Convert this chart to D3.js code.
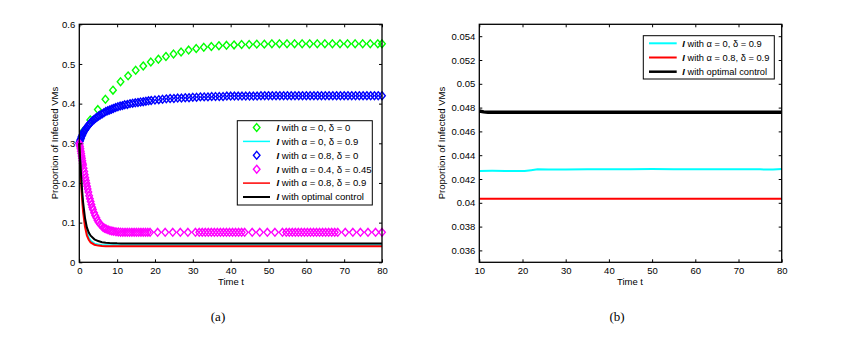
<!DOCTYPE html>
<html><head><meta charset="utf-8">
<script src="https://cdn.jsdelivr.net/npm/d3@7"></script>
<style>body{margin:0;background:#fff}svg{display:block}text{font-family:"Liberation Sans",Arial,sans-serif}</style>
</head><body>
<svg id="chart" width="860" height="337"></svg>
<script>
// ---------- data ----------
const xTicksLeft = [0,10,20,30,40,50,60,70,80];
const yTicksLeft = [0,0.1,0.2,0.3,0.4,0.5,0.6];
const xTicksRight = [10,20,30,40,50,60,70,80];
const yTicksRight = [0.036,0.038,0.04,0.042,0.044,0.046,0.048,0.05,0.052,0.054];

const greenT = [0,1,2.9,4.9,6.9,8.9,10.9,12.9,14.9,16.9,18.9,20.9,22.9,24.9,26.9,28.9,30.9,32.9,34.9,36.9,38.9,40.9,42.9,44.9,46.9,48.9,50.9,52.9,54.9,56.9,58.9,60.9,62.9,64.9,66.9,68.9,70.9,72.9,74.9,76.9,78.9,80];
const greenV = [0.300,0.330,0.359,0.385,0.411,0.434,0.455,0.470,0.484,0.495,0.505,0.512,0.519,0.525,0.530,0.535,0.539,0.542,0.544,0.546,0.547,0.548,0.549,0.549,0.550,0.550,0.551,0.551,0.551,0.551,0.551,0.551,0.551,0.551,0.551,0.551,0.551,0.551,0.551,0.551,0.551,0.551];

const blueT = [0,0.15,0.3,0.45,0.6,0.8,1.0,1.2,1.4,1.6,1.9,2.2,2.5,2.8,3.1,3.5,3.9,4.3,4.7,5.1,5.5,6.0,6.5,7.0,7.5,8.0,8.5,9.0,9.6,10.2,10.8,11.4,12.0,12.7,13.4,14.1,14.8,15.5,16.2,16.9,17.6,18.3,19,20,21,22,23,24,25,26,27,28,29,30,31,32,33,34,35,36,37,38,39,40,41,42,43,44,45,46,47,48,49,50,51,52,53,54,55,56,57,58,59,60,61,62,63,64,65,66,67,68,69,70,71,72,73,74,75,76,77,78,79,80];
const blueV = [0.300,0.305,0.309,0.313,0.317,0.321,0.325,0.329,0.332,0.335,0.339,0.343,0.347,0.350,0.353,0.357,0.360,0.363,0.366,0.369,0.371,0.374,0.377,0.380,0.382,0.384,0.386,0.388,0.390,0.392,0.394,0.395,0.397,0.398,0.400,0.401,0.402,0.403,0.404,0.405,0.406,0.407,0.408,0.409,0.410,0.411,0.412,0.413,0.413,0.414,0.414,0.415,0.415,0.416,0.416,0.417,0.417,0.417,0.418,0.418,0.418,0.418,0.419,0.419,0.419,0.419,0.419,0.419,0.419,0.419,0.419,0.420,0.420,0.420,0.420,0.420,0.420,0.420,0.420,0.420,0.420,0.420,0.420,0.420,0.420,0.420,0.420,0.420,0.420,0.420,0.420,0.420,0.420,0.420,0.420,0.420,0.420,0.420,0.420,0.420,0.420,0.420,0.420,0.420];

const magT = [0,0.1,0.2,0.3,0.4,0.5,0.6,0.7,0.8,0.9,1.0,1.15,1.3,1.45,1.6,1.75,1.9,2.05,2.2,2.4,2.6,2.8,3.0,3.2,3.4,3.6,3.9,4.2,4.5,4.8,5.1,5.5,5.9,6.3,6.7,7.1,7.6,8.1,8.6,9.1,9.7,10.3,10.9,11.5,12.1,12.7,13.3,13.9,14.5,15.1,15.7,16.3,16.9,17.5,18.1,18.7,20.7,22.7,24.7,26.7,28.7,30.7,31.7,32.5,33.3,34.1,34.9,35.7,36.5,37.3,38.1,38.9,39.7,40.5,41.3,42.1,42.9,43.7,45.7,47.7,49.7,51.7,53.7,54.7,55.5,56.3,57.1,57.9,58.7,59.5,60.3,61.1,61.9,62.7,63.5,64.3,65.1,65.9,66.7,67.5,68.3,70.3,72.3,74.3,76.3,78.3,80];
const magV = [0.300,0.296,0.291,0.286,0.280,0.274,0.268,0.262,0.256,0.250,0.245,0.237,0.229,0.221,0.213,0.206,0.199,0.192,0.185,0.177,0.168,0.160,0.153,0.146,0.139,0.133,0.125,0.118,0.112,0.106,0.101,0.096,0.092,0.088,0.086,0.084,0.082,0.080,0.079,0.078,0.077,0.0765,0.076,0.0757,0.0755,0.0755,0.0755,0.0755,0.0755,0.0755,0.0755,0.0755,0.0755,0.0755,0.0755,0.0755,0.0755,0.0755,0.0755,0.0755,0.0755,0.0755,0.0755,0.0755,0.0755,0.0755,0.0755,0.0755,0.0755,0.0755,0.0755,0.0755,0.0755,0.0755,0.0755,0.0755,0.0755,0.0755,0.0755,0.0755,0.0755,0.0755,0.0755,0.0755,0.0755,0.0755,0.0755,0.0755,0.0755,0.0755,0.0755,0.0755,0.0755,0.0755,0.0755,0.0755,0.0755,0.0755,0.0755,0.0755,0.0755,0.0755,0.0755,0.0755,0.0755,0.0755,0.0755,0.0755,0.0755];

const cyanT = [0,0.25,0.5,0.75,1,1.5,2,2.5,3,4,5,6,7,8,9,10,13,16,19,20.5,22,23.5,26,30,35,40,45,50,55,60,65,70,75,78,80];
const cyanV = [0.300,0.250,0.205,0.168,0.138,0.098,0.075,0.062,0.054,0.047,0.0447,0.0437,0.0432,0.0430,0.0428,0.04268,0.04269,0.04268,0.04267,0.04268,0.04274,0.04281,0.04280,0.04280,0.04282,0.04281,0.04282,0.04283,0.04281,0.04282,0.04281,0.04282,0.04281,0.04279,0.04285];

const redT = [0,0.25,0.5,0.75,1,1.5,2,2.5,3,4,5,6,7,8,9,10,15,20,25,30,35,40,45,50,55,60,65,70,75,80];
const redV = [0.300,0.245,0.196,0.158,0.128,0.090,0.068,0.057,0.050,0.0443,0.0421,0.0412,0.0407,0.0405,0.0404,0.04035,0.04034,0.04035,0.04034,0.04033,0.04035,0.04034,0.04034,0.04033,0.04035,0.04034,0.04034,0.04033,0.04034,0.04034];

const blackT = [0,0.25,0.5,0.75,1,1.5,2,2.5,3,4,5,6,7,8,9,10,11,12,20,30,40,50,60,70,80];
const blackV = [0.300,0.255,0.215,0.180,0.152,0.112,0.088,0.075,0.067,0.058,0.0535,0.0508,0.0494,0.0486,0.0481,0.04772,0.04764,0.04761,0.04761,0.04761,0.04761,0.04761,0.04761,0.04761,0.04761];

const legendLeft = [
  {label:" with \u03b1 = 0, \u03b4 = 0", color:"#00ff00", kind:"marker"},
  {label:" with \u03b1 = 0, \u03b4 = 0.9", color:"#00ffff", kind:"line"},
  {label:" with \u03b1 = 0.8, \u03b4 = 0", color:"#0000ff", kind:"marker"},
  {label:" with \u03b1 = 0.4, \u03b4 = 0.45", color:"#ff00ff", kind:"marker"},
  {label:" with \u03b1 = 0.8, \u03b4 = 0.9", color:"#ff0000", kind:"line"},
  {label:" with optimal control", color:"#000000", kind:"line"}
];
const legendRight = [
  {label:" with \u03b1 = 0, \u03b4 = 0.9", color:"#00ffff", w:2},
  {label:" with \u03b1 = 0.8, \u03b4 = 0.9", color:"#ff0000", w:2},
  {label:" with optimal control", color:"#000000", w:2.5}
];

// ---------- drawing ----------
const svg = d3.select("#chart");
const zip = (T,V) => T.map((t,i)=>({t, v:V[i]}));
const diamond = (cx,cy) => `M${cx},${cy-3.9}L${cx+3.3},${cy}L${cx},${cy+3.9}L${cx-3.3},${cy}Z`;

function frame(g, x, y, xt, yt, fmtY){
  const [x0,x1] = x.range(), [y0,y1] = y.range();
  const fs = "9.5px";
  const b = g.append("g").attr("transform",`translate(0,${y0})`)
    .call(d3.axisBottom(x).tickValues(xt).tickSize(-3).tickPadding(5).tickFormat(d3.format("d")));
  const t = g.append("g").attr("transform",`translate(0,${y1})`)
    .call(d3.axisTop(x).tickValues(xt).tickSize(-3).tickFormat(""));
  const l = g.append("g").attr("transform",`translate(${x0},0)`)
    .call(d3.axisLeft(y).tickValues(yt).tickSize(-3).tickPadding(4).tickFormat(fmtY));
  const r = g.append("g").attr("transform",`translate(${x1},0)`)
    .call(d3.axisRight(y).tickValues(yt).tickSize(-3).tickFormat(""));
  [b,t,l,r].forEach(a=>{a.select(".domain").remove();
    a.selectAll("line").attr("stroke","#000").attr("stroke-width",1);
    a.selectAll("text").attr("fill","#000").style("font-size",fs).style("font-family","'Liberation Sans',Arial,sans-serif");});
  g.append("rect").attr("x",x0).attr("y",y1).attr("width",x1-x0).attr("height",y0-y1)
    .attr("fill","none").attr("stroke","#000").attr("stroke-width",1.3);
}

function legendText(sel, label){
  sel.append("tspan").attr("font-weight","bold").attr("font-style","italic").text("I");
  sel.append("tspan").text(label);
}

// ----- Left panel -----
const xL = d3.scaleLinear().domain([0,80]).range([79.3,382]);
const yL = d3.scaleLinear().domain([0,0.6]).range([262.3,24.3]);
const gL = svg.append("g");
const line = (x,y) => d3.line().x(d=>x(d.t)).y(d=>y(d.v));

function markers(g, data, color, x, y){
  g.append("g").selectAll("path").data(data).join("path")
    .attr("d",d=>diamond(x(d.t),y(d.v))).attr("fill","none")
    .attr("stroke",color).attr("stroke-width",1.4);
}
markers(gL, zip(greenT,greenV), "#00ff00", xL, yL);
markers(gL, zip(blueT,blueV), "#0000ff", xL, yL);
markers(gL, zip(magT,magV), "#ff00ff", xL, yL);
gL.append("path").datum(zip(cyanT,cyanV)).attr("d",line(xL,yL)).attr("fill","none").attr("stroke","#00ffff").attr("stroke-width",2);
gL.append("path").datum(zip(redT,redV)).attr("d",line(xL,yL)).attr("fill","none").attr("stroke","#ff0000").attr("stroke-width",2);
gL.append("path").datum(zip(blackT,blackV)).attr("d",line(xL,yL)).attr("fill","none").attr("stroke","#000").attr("stroke-width",2);
frame(gL, xL, yL, xTicksLeft, yTicksLeft, d=>String(+d.toFixed(1)));

gL.append("text").attr("transform",`translate(58,143) rotate(-90)`).attr("text-anchor","middle")
  .style("font-size","9.5px").text("Proportion of Infected VMs");
gL.append("text").attr("x",231).attr("y",285).attr("text-anchor","middle").style("font-size","9.5px").text("Time t");
svg.append("text").attr("x",218).attr("y",321).attr("text-anchor","middle")
  .style("font-family","'Liberation Serif','Times New Roman',serif").style("font-size","13px").text("(a)");

// left legend
const lgL = gL.append("g");
lgL.append("rect").attr("x",237.3).attr("y",120.7).attr("width",135).attr("height",84.3)
  .attr("fill","#fff").attr("stroke","#000").attr("stroke-width",1);
legendLeft.forEach((e,i)=>{
  const cy = 127.5 + i*13.9;
  if(e.kind==="marker"){
    lgL.append("path").attr("d",diamond(256.7,cy)).attr("fill","none").attr("stroke",e.color).attr("stroke-width",1.4);
  } else {
    lgL.append("line").attr("x1",243).attr("x2",270).attr("y1",cy).attr("y2",cy).attr("stroke",e.color).attr("stroke-width",e.color==="#000000"?2:1.5);
  }
  const t = lgL.append("text").attr("x",276.5).attr("y",cy+3.3).style("font-size","9.6px");
  legendText(t, e.label);
});

// ----- Right panel -----
const xR = d3.scaleLinear().domain([10,80]).range([479.3,781.7]);
const yR = d3.scaleLinear().domain([0.035,0.055]).range([262.3,24.3]);
const gR = svg.append("g");
const onlyR = d => d.t >= 10;
gR.append("path").datum(zip(cyanT,cyanV).filter(onlyR)).attr("d",line(xR,yR)).attr("fill","none").attr("stroke","#00ffff").attr("stroke-width",2);
gR.append("path").datum(zip(redT,redV).filter(onlyR)).attr("d",line(xR,yR)).attr("fill","none").attr("stroke","#ff0000").attr("stroke-width",2);
gR.append("path").datum(zip(blackT,blackV).filter(onlyR)).attr("d",line(xR,yR)).attr("fill","none").attr("stroke","#000").attr("stroke-width",3.5);
frame(gR, xR, yR, xTicksRight, yTicksRight, d=>String(+d.toFixed(3)));

gR.append("text").attr("transform",`translate(445,143) rotate(-90)`).attr("text-anchor","middle")
  .style("font-size","9.5px").text("Proportion of Infected VMs");
gR.append("text").attr("x",630).attr("y",285).attr("text-anchor","middle").style("font-size","9.5px").text("Time t");
svg.append("text").attr("x",617).attr("y",321).attr("text-anchor","middle")
  .style("font-family","'Liberation Serif','Times New Roman',serif").style("font-size","13px").text("(b)");

const lgR = gR.append("g");
lgR.append("rect").attr("x",643.3).attr("y",35.7).attr("width",131).attr("height",43.3)
  .attr("fill","#fff").attr("stroke","#000").attr("stroke-width",1);
legendRight.forEach((e,i)=>{
  const cy = 43.3 + i*14.2;
  lgR.append("line").attr("x1",649).attr("x2",676.7).attr("y1",cy).attr("y2",cy).attr("stroke",e.color).attr("stroke-width",e.w);
  const t = lgR.append("text").attr("x",682.3).attr("y",cy+3.3).style("font-size","9.3px");
  legendText(t, e.label);
});
</script>
</body></html>
